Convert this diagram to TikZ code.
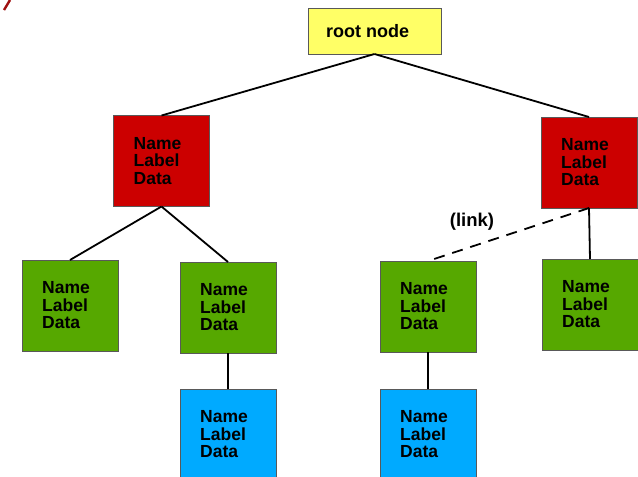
\documentclass[tikz,border=0pt]{standalone}
\usepackage{fontspec}
\setmainfont{Liberation Sans}
\begin{document}
\begin{tikzpicture}[x=1pt,y=-1pt,
  box/.style={draw=black!65,line width=0.8pt,minimum width=96pt,minimum height=91pt,inner sep=0pt,outer sep=0pt},
  redbox/.style={box,fill=rednode},
  greenbox/.style={box,fill=greennode},
  bluebox/.style={box,fill=bluenode},
  txt/.style={font=\fontsize{17.5}{17.5}\selectfont\bfseries,align=left,inner sep=0pt,anchor=west},
  edge/.style={line width=1.8pt,black}]
\definecolor{rednode}{HTML}{CC0000}
\definecolor{greennode}{HTML}{56A800}
\definecolor{bluenode}{HTML}{00AAFF}
\definecolor{rootnode}{HTML}{FFFF66}
\definecolor{titlered}{HTML}{A01010}
\useasboundingbox (0,0) rectangle (638,477);
\clip (0,0) rectangle (638,477);

% fragment of the heading in the top-left corner
\draw[titlered,line width=2.4pt] (10,0) -- (4,10);

% boxes
\node[box,fill=rootnode,minimum width=133pt,minimum height=46pt] (root) at (374.5,31) {};
\node[txt,font=\fontsize{18}{18}\selectfont\bfseries] (roottext) at (326,31) {root node};

\node[redbox] (redL) at (161.5,161) {};
\node[redbox] (redR) at (589,162.5) {};
\node[greenbox] (g1) at (70,305.5) {};
\node[greenbox] (g2) at (228,307.5) {};
\node[greenbox] (g3) at (428,306.5) {};
\node[greenbox] (g4) at (590,304.5) {};
\node[bluebox] (b1) at (228,434.5) {};
\node[bluebox] (b2) at (428,434.5) {};

% Name / Label / Data texts
\foreach \n in {redL,redR,g1,g2,g3,g4,b1,b2}{
  \node[txt] (\n text) at ([xshift=20pt]\n.west) {Name\\Label\\Data};
}

% connectors
\draw[edge] (root.south) -- (redL.north);
\draw[edge] (root.south) -- (redR.north);
\draw[edge] (redL.south) -- (g1.north);
\draw[edge] (redL.south) -- (g2.north);
\draw[edge] (redR.south) -- (g4.north);
\draw[edge] (g2.south) -- (b1.north);
\draw[edge] (g3.south) -- (b2.north);
\draw[edge,dash pattern=on 11pt off 8pt,shorten >=4pt] (redR.south) -- (g3.north);
\node[font=\fontsize{18.5}{18}\selectfont\bfseries,inner sep=0pt] (link) at (472,222) {(link)};
\end{tikzpicture}
\end{document}
